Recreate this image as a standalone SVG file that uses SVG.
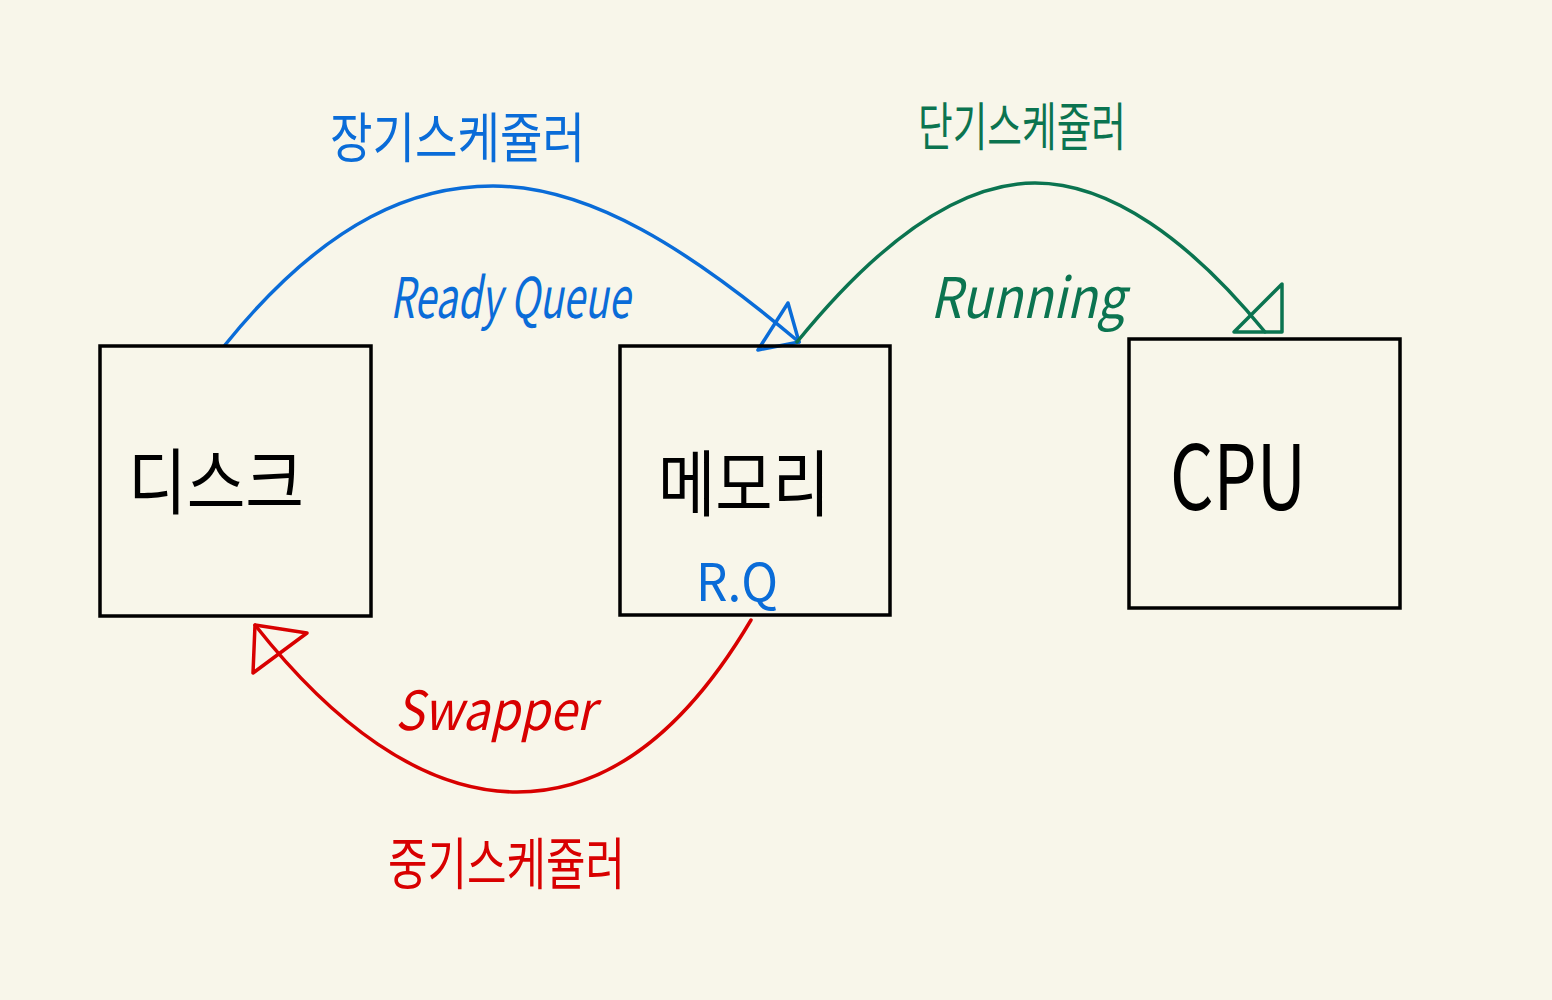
<svg xmlns="http://www.w3.org/2000/svg" width="1552" height="1000" viewBox="0 0 1552 1000">
<style>
.box{fill:none;stroke:#000;stroke-width:3.5}
.c{fill:none;stroke-width:3.5;stroke-linejoin:round;stroke-linecap:round}
.blue{stroke:#0a6cd8}.green{stroke:#0b7450}.red{stroke:#d80000}
.t{font-family:"Noto Sans CJK KR","Noto Sans",sans-serif}
.tb{fill:#0a6cd8}.tg{fill:#0b7450}.tr{fill:#d80000}.tk{fill:#000}
</style>
<rect width="1552" height="1000" fill="#f8f6ea"/>
<g id="connectors">
<path class="c blue" d="M225,345 C330,215 420,186 493,186 C590,186 690,250 799,342"/>
<polygon class="c blue" points="788,303 758,350 799,342"/>
<path class="c green" d="M797,342 C880,240 960,183 1035,183 C1110,183 1190,240 1265,332"/>
<polygon class="c green" points="1282,284 1282,332 1234,332"/>
<path class="c red" d="M751,620 C680,740 600,792 517,792 C420,792 330,720 255,625"/>
<polygon class="c red" points="255,625 307,633 253,673"/>
</g>
<g id="disk">
<rect class="box" x="100" y="346" width="271" height="270"/>
<text class="t tk" x="128" y="508" font-size="72" textLength="176" lengthAdjust="spacingAndGlyphs">디스크</text>
</g>
<g id="memory">
<rect class="box" x="620" y="346" width="270" height="269"/>
<text class="t tk" x="658" y="510" font-size="72" textLength="172" lengthAdjust="spacingAndGlyphs">메모리</text>
<text class="t tb" x="696" y="601" font-size="52" textLength="82" lengthAdjust="spacingAndGlyphs">R.Q</text>
</g>
<g id="cpu">
<rect class="box" x="1129" y="339" width="271" height="269"/>
<text class="t tk" x="1170" y="510" font-size="90" textLength="136" lengthAdjust="spacingAndGlyphs">CPU</text>
</g>
<g id="labels">
<text class="t tb" x="330" y="158" font-size="54" textLength="255" lengthAdjust="spacingAndGlyphs">장기스케쥴러</text>
<text class="t tb" x="390" y="318" font-size="56" font-style="italic" textLength="240" lengthAdjust="spacingAndGlyphs">Ready Queue</text>
<text class="t tg" x="918" y="146" font-size="52" textLength="208" lengthAdjust="spacingAndGlyphs">단기스케쥴러</text>
<text class="t tg" x="930" y="318" font-size="56" font-style="italic" textLength="195" lengthAdjust="spacingAndGlyphs">Running</text>
<text class="t tr" x="395" y="730" font-size="54" font-style="italic" textLength="200" lengthAdjust="spacingAndGlyphs">Swapper</text>
<text class="t tr" x="388" y="884" font-size="56" textLength="237" lengthAdjust="spacingAndGlyphs">중기스케쥴러</text>
</g>
</svg>
